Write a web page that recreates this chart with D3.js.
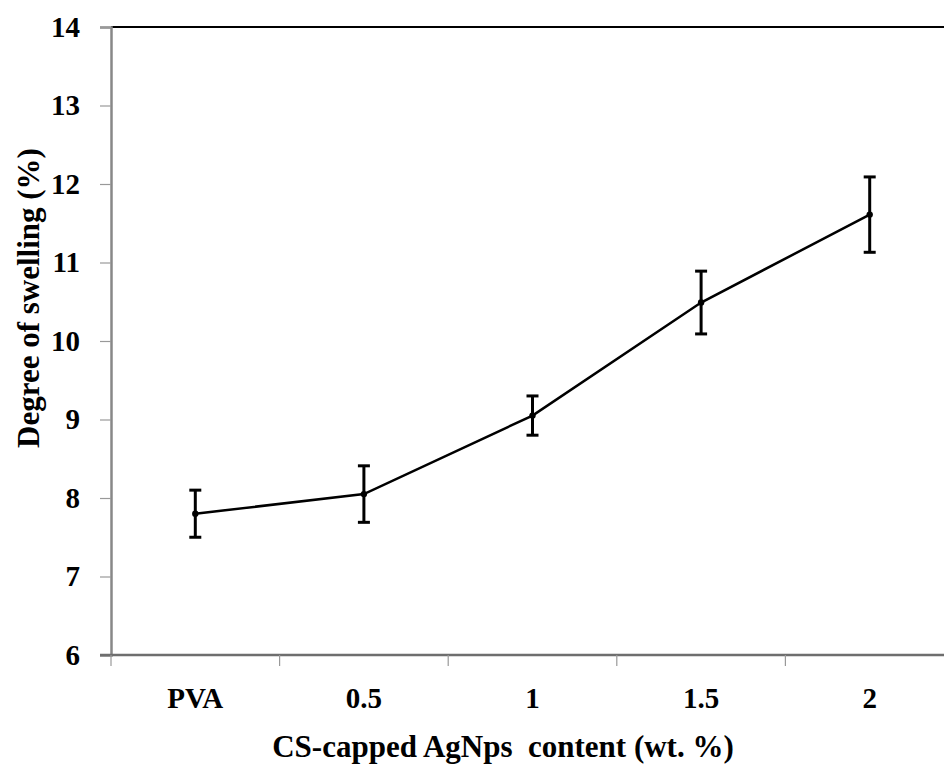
<!DOCTYPE html>
<html>
<head>
<meta charset="utf-8">
<script src="https://cdn.jsdelivr.net/npm/d3@7"></script>
<style>
  body { margin: 0; background: #fff; }
  text { font-family: "Liberation Serif", "DejaVu Serif", serif; font-weight: bold; fill: #000; }
</style>
</head>
<body>
<div id="chart"></div>
<script>
// values
const categories = ['PVA', '0.5', '1', '1.5', '2'];
const swelling = [7.80, 8.05, 9.05, 10.49, 11.61];
const errors = [0.30, 0.36, 0.25, 0.40, 0.48];
const yTicks = [6, 7, 8, 9, 10, 11, 12, 13, 14];

const width = 944, height = 765;
const margin = { top: 27, left: 111, bottom: 110 };
const plotRight = 954; // the plot runs past the right edge of the picture

const svg = d3.select('#chart')
    .append('svg')
    .attr('width', width)
    .attr('height', height);

const x = d3.scaleBand()
    .domain(categories)
    .range([margin.left, plotRight]);

const y = d3.scaleLinear()
    .domain([6, 14])
    .range([height - margin.bottom, margin.top]);

// top border of plot area
svg.append('line')
    .attr('x1', margin.left).attr('x2', width)
    .attr('y1', y(14)).attr('y2', y(14))
    .attr('stroke', '#000').attr('stroke-width', 2.2);

// y axis
const yAxis = svg.append('g')
    .attr('transform', `translate(${margin.left},0)`)
    .call(d3.axisLeft(y).tickValues(yTicks).tickSize(11).tickPadding(20));
yAxis.select('.domain').attr('stroke', '#888').attr('stroke-width', 2.5);
yAxis.selectAll('.tick line').attr('stroke', '#999').attr('stroke-width', 1.2);
yAxis.selectAll('.tick text').attr('font-size', 29).attr('dy', '0.32em');

// x axis: ticks sit between categories
const xAxis = svg.append('g')
    .attr('transform', `translate(0,${y(6)})`);
xAxis.append('line')
    .attr('x1', margin.left - 11).attr('x2', width)
    .attr('stroke', '#6e6e6e').attr('stroke-width', 2.5);
const bounds = categories.map(c => x(c)).concat([plotRight]);
xAxis.selectAll('line.tk')
    .data(bounds.filter(b => b < width))
    .enter().append('line')
    .attr('class', 'tk')
    .attr('x1', d => d).attr('x2', d => d)
    .attr('y1', 0).attr('y2', 11)
    .attr('stroke', '#999').attr('stroke-width', 1.2);
xAxis.selectAll('text')
    .data(categories)
    .enter().append('text')
    .attr('x', d => x(d) + x.bandwidth() / 2)
    .attr('y', 53)
    .attr('text-anchor', 'middle')
    .attr('font-size', 29)
    .text(d => d);

// error bars
const cx = (d, i) => x(categories[i]) + x.bandwidth() / 2;
const bars = svg.append('g').attr('stroke', '#000').attr('stroke-width', 3);
swelling.forEach((v, i) => {
    const px = cx(v, i);
    bars.append('line')
        .attr('x1', px).attr('x2', px)
        .attr('y1', y(v + errors[i])).attr('y2', y(v - errors[i]));
    [v + errors[i], v - errors[i]].forEach(e => {
        bars.append('line')
            .attr('x1', px - 6).attr('x2', px + 6)
            .attr('y1', y(e)).attr('y2', y(e));
    });
});

// line and markers
const line = d3.line()
    .x((d, i) => cx(d, i))
    .y(d => y(d));
svg.append('path')
    .datum(swelling)
    .attr('fill', 'none')
    .attr('stroke', '#000')
    .attr('stroke-width', 2.5)
    .attr('d', line);
svg.selectAll('circle')
    .data(swelling)
    .enter().append('circle')
    .attr('cx', cx)
    .attr('cy', d => y(d))
    .attr('r', 3.2)
    .attr('fill', '#000');

// axis titles
svg.append('text')
    .attr('x', 503)
    .attr('y', 757)
    .attr('text-anchor', 'middle')
    .attr('font-size', 31)
    .text('CS-capped AgNps\u00a0 content (wt. %)');

svg.append('text')
    .attr('transform', 'translate(39,298) rotate(-90)')
    .attr('text-anchor', 'middle')
    .attr('font-size', 31)
    .text('Degree of swelling (%)');
</script>
</body>
</html>
